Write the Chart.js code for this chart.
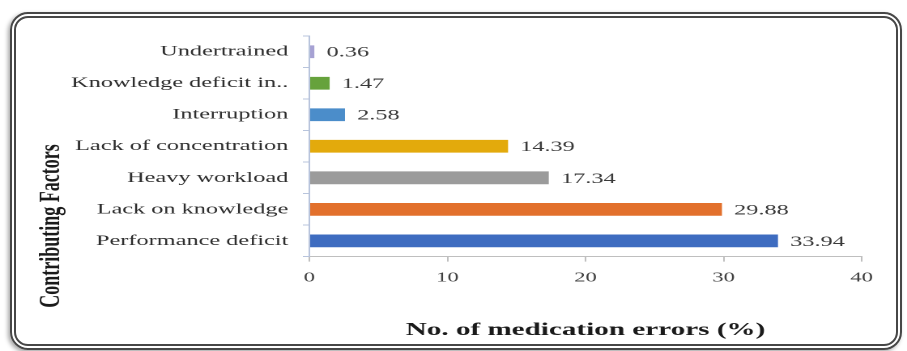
<!DOCTYPE html>
<html>
<head>
<meta charset="utf-8">
<title>Contributing factors</title>
<script src="https://cdn.jsdelivr.net/npm/chart.js@4/dist/chart.umd.min.js"></script>
<style>
	html, body { margin: 0; padding: 0; background: #fff; overflow: hidden; }
	#frame {
		position: absolute; left: 10px; top: 12px; width: 880px; height: 326px;
		border: 6px double #474747; border-radius: 18px;
		box-shadow: -2px 2px 4px rgba(0, 0, 0, 0.35);
	}
	#chart { position: absolute; left: 0; top: 0; }
</style>
</head>
<body>
<div id="frame"></div>
<!-- the source picture is stretched sideways, so the canvas is drawn narrow and widened by css -->
<canvas id="chart" width="560" height="351" style="width:907px;height:351px"></canvas>
<script>
// top to bottom, as in the picture
var categories = ['Undertrained', 'Knowledge deficit in..', 'Interruption', 'Lack of concentration', 'Heavy workload', 'Lack on knowledge', 'Performance deficit'];
var errorShare = [0.36, 1.47, 2.58, 14.39, 17.34, 29.88, 33.94];
var barColors = ['#a6a1d3', '#66a23c', '#4b8dca', '#e3aa0c', '#9b9b9b', '#e2702c', '#3e6cc0'];
var xTicks = [0, 10, 20, 30, 40];

var serif = "'Liberation Serif', 'Times New Roman', serif";

Chart.defaults.font.family = serif;
Chart.defaults.color = '#404040';

// value written right of each bar
var valueLabels = {
	id: 'valueLabels',
	afterDatasetsDraw: function(chart){
		var ctx = chart.ctx;
		var meta = chart.getDatasetMeta(0);

		ctx.save();
		ctx.font = '15px ' + serif;
		ctx.fillStyle = '#3a3a3a';
		ctx.textAlign = 'left';
		ctx.textBaseline = 'middle';

		meta.data.forEach(function(bar, i){
			ctx.fillText(errorShare[i].toFixed(2), bar.x + 7.5, bar.y + 1);
		});

		ctx.restore();
	}
};

// y title sits lower than the axis centre in the source, so draw it by hand
var sideTitle = {
	id: 'sideTitle',
	afterDraw: function(chart){
		var ctx = chart.ctx;

		ctx.save();
		ctx.translate(32, 226);
		ctx.rotate(-Math.PI / 2);
		ctx.font = 'bold 18px ' + serif;
		ctx.fillStyle = '#1a1a1a';
		ctx.textAlign = 'center';
		ctx.textBaseline = 'middle';
		ctx.fillText('Contributing Factors', 0, 0);
		ctx.restore();
	}
};

var chart = new Chart(document.getElementById('chart'), {
	type: 'bar',
	data: {
		labels: categories,
		datasets: [{
			data: errorShare,
			backgroundColor: barColors,
			barPercentage: 0.5,
			categoryPercentage: 0.81
		}]
	},
	options: {
		indexAxis: 'y',
		responsive: false,
		animation: false,
		devicePixelRatio: 2,
		layout: { padding: { left: 0, right: 28, top: 36, bottom: 0 } },
		plugins: {
			legend: { display: false },
			tooltip: { enabled: false }
		},
		scales: {
			x: {
				min: xTicks[0],
				max: xTicks[xTicks.length - 1],
				afterBuildTicks: function(scale){
					scale.ticks = xTicks.map(function(v){ return { value: v }; });
				},
				grid: { drawOnChartArea: false, tickLength: 5, color: '#bfbfbf' },
				border: { color: '#bfbfbf' },
				ticks: { padding: 8, color: '#404040', font: { size: 14 } },
				title: {
					display: true,
					text: 'No. of medication errors (%)',
					color: '#1a1a1a',
					font: { size: 18, weight: 'bold' },
					padding: { top: 25, bottom: 10 }
				}
			},
			y: {
				afterFit: function(scale){
					scale.width = 191;
				},
				grid: { drawOnChartArea: false, tickLength: 4, color: '#b8c4dc' },
				border: { color: '#b8c4dc' },
				ticks: { padding: 9, color: '#2e2e2e', font: { size: 15 } }
			}
		}
	},
	plugins: [valueLabels, sideTitle]
});
</script>
</body>
</html>
